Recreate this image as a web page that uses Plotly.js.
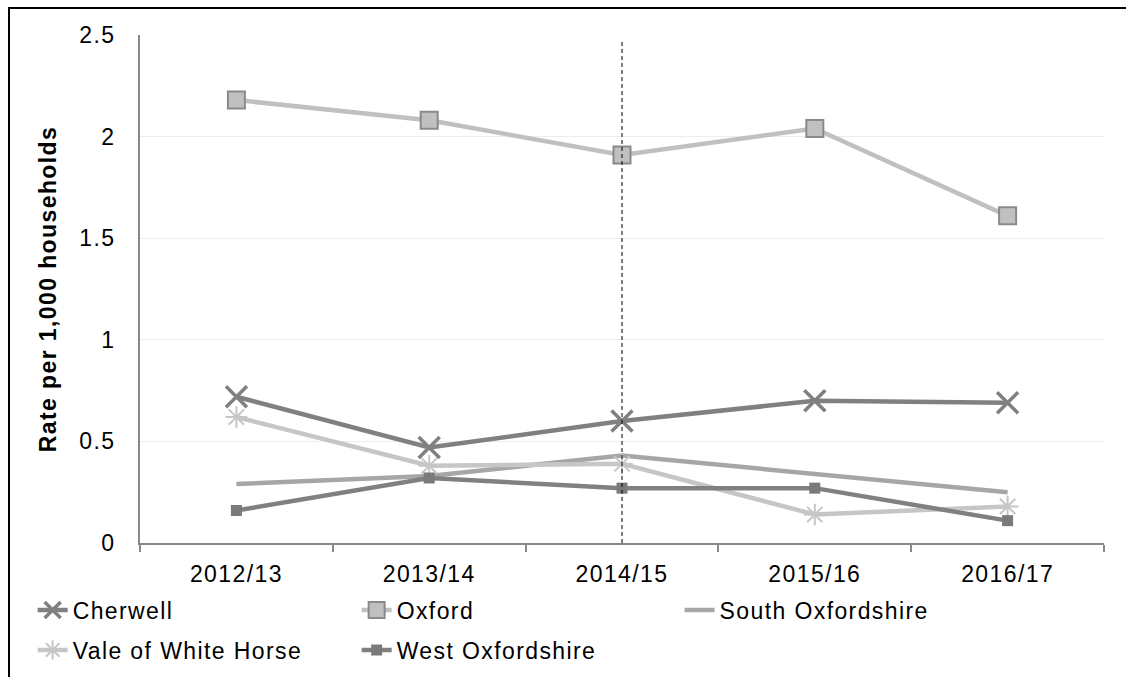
<!DOCTYPE html>
<html>
<head>
<meta charset="utf-8">
<script src="https://cdn.plot.ly/plotly-3.0.1.min.js"></script>
<style>
  html, body { margin: 0; padding: 0; background: #fff; }
  #wrap { position: relative; width: 1126px; height: 677px; overflow: hidden; }
  #chart { position: absolute; left: 0; top: 0; width: 1126px; height: 677px; }
  #frame { position: absolute; left: 8px; top: 7px; width: 1200px; height: 800px;
           border-left: 2px solid #000; border-top: 2px solid #000; pointer-events: none; }
  /* the source text is set a little wider than Arial */
  svg text { letter-spacing: 1.4px; }
</style>
</head>
<body>
<div id="wrap">
  <div id="chart"></div>
  <div id="frame"></div>
</div>
<script>
// data
let years = ['2012/13', '2013/14', '2014/15', '2015/16', '2016/17'];
let cherwell = [0.72, 0.47, 0.60, 0.70, 0.69];
let oxford = [2.18, 2.08, 1.91, 2.04, 1.61];
let southOxon = [0.29, 0.33, 0.43, 0.34, 0.25];
let vale = [0.62, 0.38, 0.39, 0.14, 0.18];
let westOxon = [0.16, 0.32, 0.27, 0.27, 0.11];
let markerYear = '2014/15';

function drawChart() {
    let traces = [{
        x: years, y: southOxon, name: 'South Oxfordshire', mode: 'lines',
        legend: 'legend3',
        line: { color: '#a6a6a6', width: 4.5 }
    }, {
        x: years, y: vale, name: 'Vale of White Horse', mode: 'lines+markers',
        legend: 'legend2', legendrank: 1,
        line: { color: '#c6c6c6', width: 4.5 },
        marker: { symbol: 'asterisk-open', size: 18, line: { color: '#929292', width: 2 } }
    }, {
        x: years, y: westOxon, name: 'West Oxfordshire', mode: 'lines+markers',
        legend: 'legend2', legendrank: 2,
        line: { color: '#808080', width: 4.5 },
        marker: { symbol: 'square', size: 11, color: '#7a7a7a' }
    }, {
        x: years, y: oxford, name: 'Oxford', mode: 'lines+markers',
        legend: 'legend', legendrank: 2,
        line: { color: '#c0c0c0', width: 4.5 },
        marker: { symbol: 'square', size: 17, color: '#c0c0c0', line: { color: '#8a8a8a', width: 2 } }
    }, {
        x: years, y: cherwell, name: 'Cherwell', mode: 'lines+markers',
        legend: 'legend', legendrank: 1,
        line: { color: '#808080', width: 4.5 },
        marker: { symbol: 'x-thin-open', size: 21, line: { color: '#7a7a7a', width: 3.5 } }
    }];

    let legendBase = {
        orientation: 'h',
        xref: 'container', xanchor: 'left',
        yref: 'container', yanchor: 'middle',
        entrywidth: 279,
        font: { size: 23 },
        bgcolor: 'rgba(0,0,0,0)'
    };

    let layout = {
        width: 1126,
        height: 677,
        margin: { t: 35, b: 134, l: 140, r: 22 },
        paper_bgcolor: '#fff',
        plot_bgcolor: '#fff',
        font: { family: 'Liberation Sans, Arial, sans-serif', size: 23, color: '#000' },
        showlegend: true,
        legend: Object.assign({}, legendBase, { x: 0.029, y: 1 - 610 / 677 }),
        legend3: Object.assign({}, legendBase, { x: 0.6035, y: 1 - 610 / 677 }),
        legend2: Object.assign({}, legendBase, { x: 0.029, y: 1 - 650 / 677 }),
        xaxis: {
            type: 'category',
            range: [-0.5, years.length - 0.5],
            showline: true, linecolor: '#888', linewidth: 2,
            showgrid: false,
            ticks: 'outside', tickson: 'boundaries', ticklen: 7, tickcolor: '#888', tickwidth: 2,
            ticklabelstandoff: 9,
            tickfont: { size: 23 }
        },
        yaxis: {
            range: [0, 2.5],
            dtick: 0.5,
            showline: true, linecolor: '#888', linewidth: 2,
            showgrid: true, gridcolor: '#eeeeee', gridwidth: 1,
            zeroline: false,
            ticks: '', ticklabelstandoff: 18,
            tickfont: { size: 23 },
            title: { text: '<b>Rate per 1,000 households</b>', font: { size: 23 }, standoff: 16 }
        },
        shapes: [{
            type: 'line', xref: 'x', yref: 'y',
            x0: markerYear, x1: markerYear, y0: 0, y1: 2.47,
            line: { color: '#000', width: 1, dash: '4px,3px' }
        }]
    };

    Plotly.newPlot('chart', traces, layout, { displayModeBar: false, staticPlot: true });
}
drawChart();
</script>
</body>
</html>
